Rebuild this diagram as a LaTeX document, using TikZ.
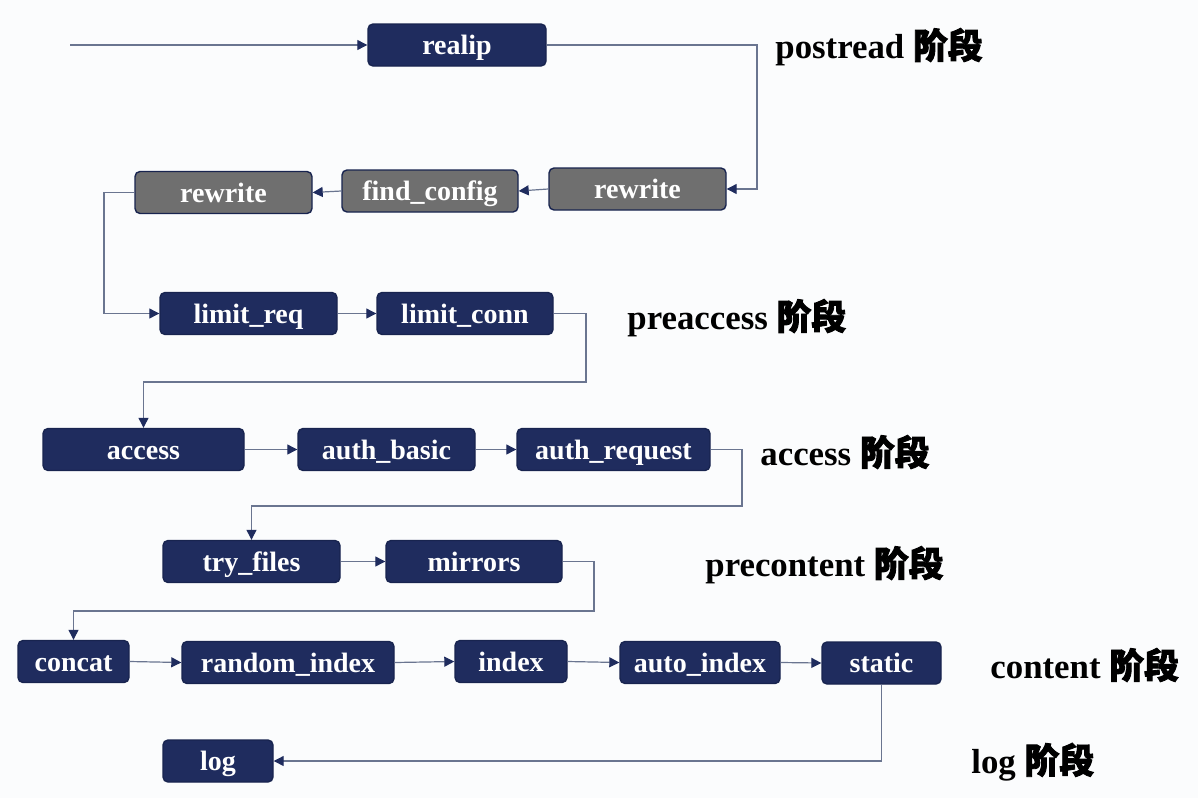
\documentclass[tikz,border=0pt]{standalone}
\usepackage{fontspec}
\setmainfont{Liberation Serif}
\newfontfamily\cjk{Noto Sans CJK SC}[FakeBold=2.5]
\usetikzlibrary{arrows.meta}
\definecolor{navy}{HTML}{1F2C5E}
\definecolor{navyedge}{HTML}{18244F}
\definecolor{grayfill}{HTML}{6F6F6F}
\definecolor{wire}{HTML}{6A7590}
\definecolor{bg}{HTML}{FBFCFD}
\tikzset{
  box/.style={rectangle, rounded corners=2.5pt, draw=navyedge, line width=0.7pt,
    fill=navy, text=white, inner sep=0pt, minimum height=21pt,
    text height=10.5pt, text depth=1pt,
    font=\fontsize{14}{14}\selectfont\bfseries},
  graybox/.style={box, fill=grayfill, draw=navyedge},
  wirestyle/.style={draw=wire, line width=0.6pt,
    -{Triangle[length=5pt,width=5pt,fill=navy,color=navy]}},
  stage/.style={anchor=west, inner sep=0pt, text=black,
    font=\fontsize{17.4}{17.4}\selectfont\bfseries},
}
\newcommand{\jd}{{\cjk 阶段}}
\begin{document}
\begin{tikzpicture}[x=0.5pt,y=-0.5pt]
\fill[bg] (0,0) rectangle (1198,798);
\useasboundingbox (0,0) rectangle (1198,798);

% nodes
\node[box, minimum width=89pt] (realip) at (457,45) {realip};
\node[graybox, minimum width=88.5pt] (rw1) at (637.5,189) {rewrite};
\node[graybox, minimum width=88pt] (findcfg) at (430,191) {find\_config};
\node[graybox, minimum width=88.5pt] (rw2) at (223.5,192.5) {rewrite};
\node[box, minimum width=88.5pt] (limitreq) at (248.5,313.5) {limit\_req};
\node[box, minimum width=88pt] (limitconn) at (465,313.5) {limit\_conn};
\node[box, minimum width=100.5pt] (access) at (143.5,449.5) {access};
\node[box, minimum width=88.5pt] (authbasic) at (386.5,449.5) {auth\_basic};
\node[box, minimum width=96.5pt] (authreq) at (613.5,449.5) {auth\_request};
\node[box, minimum width=88.5pt] (tryfiles) at (251.5,561.5) {try\_files};
\node[box, minimum width=88pt] (mirrors) at (474,561.5) {mirrors};
\node[box, minimum width=55.5pt] (concat) at (73.5,661.5) {concat};
\node[box, minimum width=106pt] (randidx) at (288,662.5) {random\_index};
\node[box, minimum width=56pt] (index) at (511,661.5) {index};
\node[box, minimum width=80pt] (autoidx) at (700,662.5) {auto\_index};
\node[box, minimum width=59.5pt] (static) at (881.5,663) {static};
\node[box, minimum width=55pt] (log) at (218,761) {log};

% stage labels
\node[stage] (s1) at (775,47) {postread \jd};
\node[stage] (s2) at (627,318) {preaccess \jd};
\node[stage] (s3) at (760,452) {access \jd};
\node[stage] (s4) at (705,565) {precontent \jd};
\node[stage] (s5) at (990,665) {content \jd};
\node[stage] (s6) at (971,762) {log \jd};

% connectors
\coordinate (start) at (70,45);
\draw[wirestyle] (start) -- (realip.west);
\draw[wirestyle] (realip.east) -- (757,45) |- (rw1.east);
\draw[wirestyle] (rw1.west) -- (findcfg.east);
\draw[wirestyle] (findcfg.west) -- (rw2.east);
\draw[wirestyle] (rw2.west) -- (104,192.5) |- (limitreq.west);
\draw[wirestyle] (limitreq) -- (limitconn);
\draw[wirestyle] (limitconn.east) -- (586,313.5) -- (586,382) -| (access.north);
\draw[wirestyle] (access) -- (authbasic);
\draw[wirestyle] (authbasic) -- (authreq);
\draw[wirestyle] (authreq.east) -- (742,449.5) -- (742,506) -| (tryfiles.north);
\draw[wirestyle] (tryfiles) -- (mirrors);
\draw[wirestyle] (mirrors.east) -- (594,561.5) -- (594,611) -| (concat.north);
\draw[wirestyle] (concat.east) -- (randidx.west);
\draw[wirestyle] (randidx.east) -- (index.west);
\draw[wirestyle] (index.east) -- (autoidx.west);
\draw[wirestyle] (autoidx.east) -- (static.west);
\draw[wirestyle] (static.south) |- (log.east);
\end{tikzpicture}
\end{document}
